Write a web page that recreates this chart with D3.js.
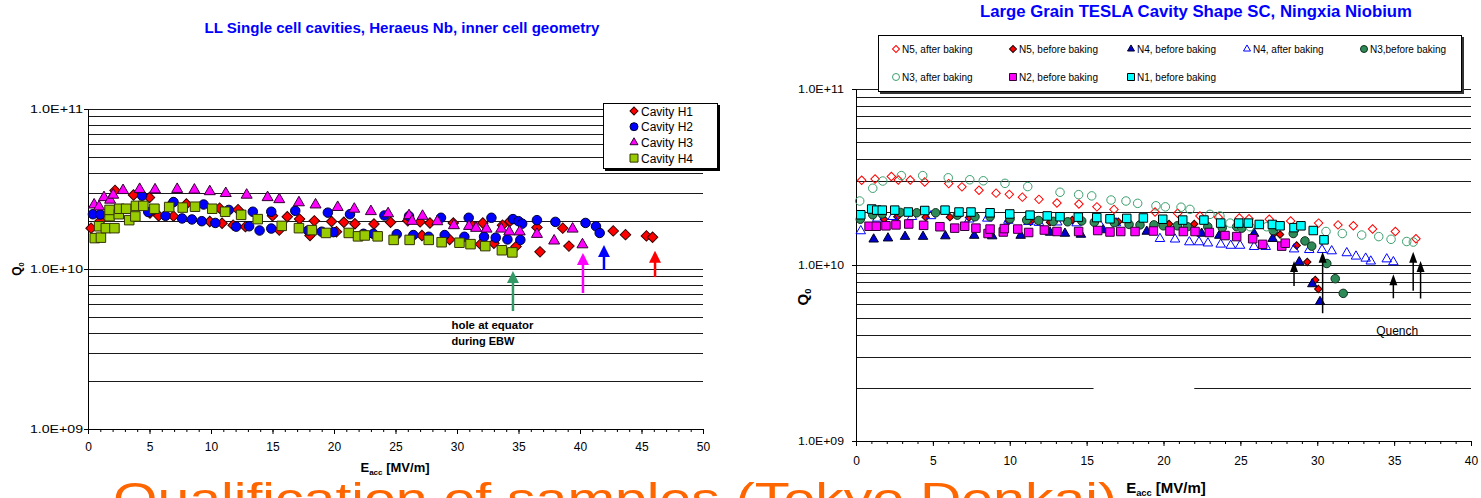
<!DOCTYPE html>
<html>
<head>
<meta charset="utf-8">
<script src="https://cdn.jsdelivr.net/npm/d3@7"></script>
<style>
  body { margin: 0; background: #fff; }
  svg { display: block; font-family: "Liberation Sans", Arial, sans-serif; }
</style>
</head>
<body>
<svg id="chart" width="1481" height="498"></svg>
<script>

// ---- Left chart: LL single cell cavities, Heraeus Nb  [Eacc MV/m, Q0]
var cavityH1 = [[0.25,1.8e10],[1.0,2.0e10],[2.2,3.1e10],[3.7,2.9e10],[5.0,2.8e10],[5.04,2.24e10],[5.74,2.15e10],
  [6.9,2.6e10],[6.95,2.14e10],[8.0,2.55e10],[9.9,1.98e10],[10.7,2.4e10],[10.9,1.93e10],[11.8,1.88e10],[12.2,2.35e10],
  [12.8,1.84e10],[15.0,2.15e10],[15.55,1.75e10],[16.2,2.12e10],[17.2,2.05e10],[18.05,1.62e10],[18.4,2.0e10],
  [19.8,1.98e10],[20.2,1.71e10],[20.8,1.96e10],[21.7,1.92e10],[23.25,1.91e10],[24.6,1.96e10],[26.0,2.0e10],
  [27.0,1.97e10],[27.15,1.62e10],[27.8,1.94e10],[29.4,1.53e10],[29.7,1.94e10],[31.2,1.88e10],[31.9,1.43e10],
  [32.1,1.94e10],[33.0,1.45e10],[33.7,1.88e10],[34.3,1.99e10],[34.8,1.38e10],[36.5,1.82e10],[36.75,1.28e10],
  [38.6,1.8e10],[39.1,1.39e10],[42.7,1.73e10],[43.7,1.64e10],[45.4,1.61e10],[45.9,1.58e10]];
var cavityH2 = [[0.4,2.2e10],[1.0,2.19e10],[4.4,2.87e10],[4.9,2.27e10],[6.3,2.15e10],[6.95,2.62e10],[7.65,2.07e10],
  [8.45,2.04e10],[9.25,1.99e10],[9.4,2.53e10],[10.35,1.94e10],[11.45,2.34e10],[12.05,1.84e10],[13.1,1.85e10],
  [13.4,2.28e10],[13.95,1.74e10],[14.9,2.28e10],[14.9,1.79e10],[16.85,2.31e10],[17.9,1.74e10],[19.0,1.71e10],
  [19.5,2.25e10],[19.95,1.7e10],[21.3,2.2e10],[22.4,1.66e10],[23.2,1.66e10],[24.1,2.16e10],[25.1,1.65e10],
  [26.1,2.14e10],[26.45,1.63e10],[27.7,1.59e10],[28.7,2.09e10],[29.0,1.63e10],[30.6,1.59e10],[30.95,2.09e10],
  [32.2,1.59e10],[32.8,2.09e10],[33.15,1.57e10],[34.1,1.53e10],[34.55,2.05e10],[35.0,1.99e10],[35.15,1.52e10],
  [35.3,1.92e10],[36.5,2.02e10],[38.0,1.97e10],[40.45,1.94e10],[41.3,1.85e10],[41.6,1.68e10]];
var cavityH3 = [[0.5,2.52e10],[0.9,2.45e10],[1.3,2.8e10],[1.8,2.7e10],[2.05,2.9e10],[2.85,3.1e10],[4.2,3.15e10],
  [5.45,3.13e10],[7.25,3.15e10],[8.65,3.12e10],[9.9,3.05e10],[11.2,2.97e10],[12.9,2.9e10],[14.6,2.8e10],
  [15.55,2.72e10],[17.15,2.6e10],[18.5,2.52e10],[20.3,2.43e10],[21.65,2.37e10],[23.0,2.29e10],[24.4,2.22e10],
  [26.1,2.16e10],[26.35,1.99e10],[27.2,2.14e10],[28.4,1.98e10],[29.75,1.87e10],[30.98,1.85e10],[31.55,1.8e10],
  [32.4,1.78e10],[33.6,1.78e10],[34.25,1.71e10],[35.1,1.71e10],[36.5,1.65e10],[37.9,1.5e10],[39.4,1.78e10],
  [40.2,1.42e10]];
var cavityH4 = [[0.55,1.56e10],[1.05,1.57e10],[0.9,1.85e10],[1.45,1.8e10],[2.15,1.8e10],[1.75,2.14e10],[1.75,2.34e10],
  [2.5,2.2e10],[2.55,2.38e10],[3.1,2.38e10],[3.35,2.02e10],[3.85,2.13e10],[3.9,2.48e10],[4.5,2.48e10],[5.4,2.38e10],
  [6.6,2.44e10],[7.7,2.42e10],[8.7,2.45e10],[10.1,2.38e10],[11.15,2.28e10],[12.45,2.18e10],[13.8,2.05e10],
  [15.75,1.86e10],[17.15,1.8e10],[18.2,1.75e10],[19.35,1.68e10],[21.2,1.68e10],[21.95,1.6e10],[22.5,1.62e10],
  [23.55,1.6e10],[24.85,1.52e10],[26.15,1.52e10],[27.7,1.52e10],[28.75,1.47e10],[30.2,1.46e10],[31.1,1.43e10],
  [32.3,1.39e10],[33.65,1.31e10],[34.5,1.27e10]];
var leftNames = ["Cavity H1", "Cavity H2", "Cavity H3", "Cavity H4"];
// quench arrows: [Eacc, Q0 at tip, Q0 at tail]
var leftArrows = [[34.55,9.7e9,5.46e9],[40.24,1.26e10,7.08e9],[41.95,1.41e10,9.86e9],[46.1,1.3e10,8.9e9]];
var leftArrowColors = ["#339966", "#FF00FF", "#0000FF", "#FF0000"];

// ---- Right chart: Large grain TESLA shape, Ningxia Nb  [Eacc MV/m, Q0]
var n5After = [[0.37,3.03e10],[1.24,3.08e10],[2.3,3.18e10],[2.75,3.04e10],[3.53,3.04e10],[4.47,2.96e10],[6.03,2.9e10],
  [6.89,2.78e10],[8.0,2.66e10],[9.11,2.56e10],[9.97,2.52e10],[10.82,2.43e10],[11.9,2.36e10],[13.07,2.25e10],
  [14.5,2.22e10],[15.67,2.14e10],[16.78,2.07e10],[19.45,2.0e10],[20.92,1.97e10],[22.37,1.9e10],[23.56,1.87e10],
  [24.93,1.85e10],[25.56,1.83e10],[26.88,1.82e10],[28.27,1.78e10],[30.09,1.73e10],[31.35,1.69e10],[32.35,1.67e10],
  [33.6,1.6e10],[35.08,1.55e10],[36.42,1.41e10]];
var n5Before = [[1.82,1.82e10],[2.69,1.88e10],[4.53,1.87e10],[6.11,1.87e10],[7.35,1.86e10],[9.93,1.78e10],
  [11.36,1.76e10],[12.62,1.75e10],[14.07,1.8e10],[17.06,1.76e10],[20.36,1.71e10],[22.0,1.71e10],[27.19,1.51e10],
  [27.58,1.49e10],[28.66,1.29e10],[29.35,1.04e10],[29.87,8.22e9],[30.07,7.31e9]];
var n4Before = [[1.15,1.4e10],[2.08,1.42e10],[3.19,1.45e10],[4.36,1.45e10],[5.81,1.46e10],[7.69,1.47e10],
  [8.86,1.46e10],[10.71,1.47e10],[12.62,1.53e10],[13.59,1.51e10],[14.63,1.49e10],[16.08,1.58e10],[18.91,1.55e10],
  [22.48,1.51e10],[23.63,1.47e10],[25.89,1.51e10],[27.1,1.41e10],[28.83,1.04e10],[29.68,7.8e9],[30.18,6.18e9]];
var n4After = [[0.31,1.56e10],[1.39,1.84e10],[2.39,1.88e10],[3.64,1.88e10],[4.88,1.9e10],[7.37,1.82e10],
  [8.54,1.84e10],[9.91,1.79e10],[11.21,1.76e10],[11.9,1.74e10],[13.09,1.75e10],[14.35,1.73e10],[15.87,1.69e10],
  [16.91,1.73e10],[19.77,1.41e10],[20.75,1.4e10],[21.68,1.35e10],[22.31,1.35e10],[22.89,1.33e10],[23.72,1.31e10],
  [24.37,1.29e10],[24.98,1.29e10],[25.89,1.27e10],[26.65,1.27e10],[28.49,1.23e10],[29.48,1.22e10],[30.31,1.22e10],
  [30.94,1.2e10],[31.92,1.17e10],[32.52,1.12e10],[33.15,1.09e10],[33.48,1.05e10],[34.52,1.08e10],[34.95,1.04e10]];
var n3Before = [[0.28,1.82e10],[1.09,1.93e10],[1.71,1.95e10],[2.88,1.99e10],[3.95,1.98e10],[5.18,1.98e10],
  [6.59,1.92e10],[7.74,1.88e10],[8.72,1.88e10],[10.02,1.83e10],[11.1,1.8e10],[11.88,1.79e10],[12.83,1.77e10],
  [13.77,1.76e10],[14.68,1.78e10],[15.5,1.75e10],[16.8,1.74e10],[17.76,1.7e10],[18.47,1.69e10],[19.38,1.69e10],
  [19.99,1.67e10],[20.9,1.67e10],[21.55,1.65e10],[22.88,1.65e10],[23.82,1.63e10],[24.76,1.65e10],[25.09,1.62e10],
  [27.14,1.57e10],[28.44,1.51e10],[29.2,1.37e10],[29.64,1.28e10],[30.62,1.02e10],[31.17,8.36e9],[31.69,6.9e9]];
var n3After = [[0.24,2.31e10],[1.09,2.73e10],[1.74,3.0e10],[2.95,3.22e10],[4.34,3.22e10],[6.0,3.13e10],[7.4,3.05e10],
  [8.28,3.01e10],[9.69,2.91e10],[11.17,2.79e10],[13.27,2.59e10],[14.48,2.51e10],[15.33,2.47e10],[16.59,2.34e10],
  [17.56,2.31e10],[18.32,2.24e10],[19.51,2.17e10],[20.12,2.14e10],[21.14,2.13e10],[21.72,2.07e10],[23.02,1.94e10],
  [23.67,1.9e10],[24.33,1.73e10],[24.98,1.65e10],[25.63,1.65e10],[26.71,1.65e10],[27.14,1.6e10],[30.57,1.55e10],
  [31.63,1.51e10],[32.89,1.48e10],[34.0,1.45e10],[34.8,1.4e10],[35.82,1.36e10],[36.25,1.35e10]];
var n2Before = [[0.85,1.66e10],[1.32,1.66e10],[1.95,1.67e10],[2.6,1.69e10],[3.43,1.71e10],[4.4,1.68e10],[5.46,1.65e10],
  [6.42,1.62e10],[7.07,1.66e10],[7.8,1.62e10],[8.59,1.51e10],[8.72,1.6e10],[9.58,1.54e10],[9.65,1.61e10],
  [10.52,1.6e10],[11.23,1.53e10],[12.25,1.58e10],[13.07,1.55e10],[14.48,1.55e10],[15.72,1.57e10],[16.52,1.54e10],
  [17.22,1.55e10],[18.15,1.55e10],[19.34,1.56e10],[20.42,1.56e10],[21.29,1.55e10],[22.05,1.55e10],[22.98,1.53e10],
  [24.0,1.47e10],[24.76,1.45e10],[25.8,1.41e10],[26.45,1.31e10],[27.69,1.28e10],[27.92,1.33e10]];
var n1Before = [[0.31,1.93e10],[1.02,2.08e10],[1.35,2.05e10],[1.71,2.05e10],[2.52,2.05e10],[3.4,2.0e10],[4.47,2.04e10],
  [5.79,2.05e10],[6.7,2.0e10],[7.48,2.0e10],[8.72,1.98e10],[10.0,1.95e10],[11.32,1.92e10],[12.44,1.9e10],
  [13.27,1.88e10],[14.46,1.87e10],[15.66,1.86e10],[16.52,1.83e10],[17.61,1.84e10],[18.69,1.85e10],[19.95,1.82e10],
  [21.25,1.8e10],[22.63,1.8e10],[23.72,1.73e10],[24.89,1.73e10],[25.52,1.73e10],[26.23,1.7e10],[27.08,1.7e10],
  [27.58,1.67e10],[28.49,1.63e10],[28.94,1.67e10],[29.74,1.57e10],[30.44,1.39e10]];
var rightNames = ["N5, after baking", "N5, before baking", "N4, before baking", "N4, after baking",
  "N3,before baking", "N3, after baking", "N2, before baking", "N1, before baking"];
var rightArrows = [[28.49,1.054e10,7.6e9],[30.35,1.19e10,5.32e9],[34.95,8.85e9,6.47e9],[36.24,1.19e10,7.15e9],[36.72,1.054e10,6.45e9]];

var yTicks = [1e9, 1e10, 1e11];


var svg = d3.select("#chart");

function formatExp(d) {
    var e = Math.round(Math.log10(d));
    return "1.0E+" + (e < 10 ? "0" : "") + e;
}

// marker: shape name + visible width in px
function markerPath(shape, w) {
    if (shape === "circle") return d3.symbol().type(d3.symbolCircle).size(Math.PI * w * w / 4)();
    if (shape === "triangle") return d3.symbol().type(d3.symbolTriangle).size(Math.sqrt(3) / 4 * w * w)();
    if (shape === "diamond") return d3.symbol().type(d3.symbolSquare).size(w * w / 2)();
    return d3.symbol().type(d3.symbolSquare).size(w * w)();
}

function drawSeries(g, data, st, x, y) {
    g.selectAll(null)
        .data(data)
        .enter()
        .append("path")
        .attr("transform", d => `translate(${x(d[0])},${y(d[1])})` + (st.shape === "diamond" ? " rotate(45)" : ""))
        .attr("d", markerPath(st.shape, st.w))
        .attr("fill", st.fill)
        .attr("stroke", st.stroke)
        .attr("stroke-width", st.sw || 1);
}

function drawLegendMarker(g, cx, cy, st, w) {
    g.append("path")
        .attr("transform", `translate(${cx},${cy})` + (st.shape === "diamond" ? " rotate(45)" : ""))
        .attr("d", markerPath(st.shape, w))
        .attr("fill", st.fill)
        .attr("stroke", st.stroke)
        .attr("stroke-width", 1);
}

// frame: gridlines + axes for one log plot
function drawFrame(g, x, y, opt) {
    var left = x.range()[0], right = x.range()[1];

    g.selectAll(null)
        .data(y.ticks().filter(v => v > 1.01e9))
        .enter()
        .append("line")
        .attr("x1", left).attr("x2", right)
        .attr("y1", d => Math.round(y(d)) + 0.5)
        .attr("y2", d => Math.round(y(d)) + 0.5)
        .attr("stroke", "#1a1a1a")
        .attr("stroke-width", 1);

    // minor x ticks
    g.append("g")
        .attr("transform", `translate(0,${y.range()[0]})`)
        .call(d3.axisBottom(x).tickValues(d3.range(0, opt.xMax + 1, 1)).tickSize(3).tickFormat(""))
        .call(a => a.select(".domain").remove());

    var xAxis = g.append("g")
        .attr("transform", `translate(0,${y.range()[0]})`)
        .call(d3.axisBottom(x)
            .tickValues(d3.range(0, opt.xMax + 1, 5))
            .tickSize(5).tickSizeOuter(0)
            .tickPadding(opt.xPad)
            .tickFormat(d3.format("d")));
    xAxis.selectAll("text").style("font-size", opt.xFont + "px").attr("fill", "#000");

    var yAxis = g.append("g")
        .attr("transform", `translate(${left},0)`)
        .call(d3.axisLeft(y)
            .tickValues(yTicks)
            .tickSize(4).tickSizeOuter(0)
            .tickPadding(opt.yPad)
            .tickFormat(formatExp));
    yAxis.selectAll("text")
        .style("font-size", "11px")
        .attr("fill", "#000")
        .attr("textLength", opt.yLabelW)
        .attr("lengthAdjust", "spacingAndGlyphs");

    g.selectAll(".domain").attr("stroke", "#000");
    g.selectAll(".tick line").attr("stroke", "#000");
}

function axisLabels(g, xc, xy, xSize, qx, qy, qSize) {
    var t = g.append("text")
        .attr("x", xc).attr("y", xy)
        .attr("text-anchor", "middle")
        .style("font-weight", "bold")
        .style("font-size", xSize + "px");
    t.append("tspan").text("E");
    t.append("tspan").attr("dy", 3).style("font-size", (xSize * 0.62) + "px").text("acc");
    t.append("tspan").attr("dy", -3).text(" [MV/m]");

    var q = g.append("text")
        .attr("transform", `translate(${qx},${qy}) rotate(-90)`)
        .attr("text-anchor", "middle")
        .style("font-weight", "bold")
        .style("font-size", qSize + "px");
    q.append("tspan").text("Q");
    q.append("tspan").attr("dy", 3).style("font-size", (qSize * 0.62) + "px").text("0");
}

function drawArrow(g, x, yTip, yTail, color, hw, hh, lw) {
    g.append("line")
        .attr("x1", x).attr("x2", x)
        .attr("y1", yTail).attr("y2", yTip + hh - 1)
        .attr("stroke", color)
        .attr("stroke-width", lw);
    g.append("path")
        .attr("d", `M${x},${yTip}L${x - hw / 2},${yTip + hh}L${x + hw / 2},${yTip + hh}Z`)
        .attr("fill", color);
}


//Left chart

function LeftChart() {
    const margin = { top: 109, right: 778, bottom: 69, left: 88 };
    var g = svg.append("g");

    var xScale = d3.scaleLinear().domain([0, 50]).range([margin.left, 1481 - margin.right]);
    var yScale = d3.scaleLog().domain([1e9, 1e11]).range([498 - margin.bottom, margin.top]);

    drawFrame(g, xScale, yScale, { xMax: 50, xPad: 8, xFont: 12, yPad: 1, yLabelW: 53 });

    g.append("text")
        .attr("x", 402).attr("y", 33)
        .attr("text-anchor", "middle")
        .attr("fill", "#0000FF")
        .style("font-weight", "bold")
        .style("font-size", "14px")
        .attr("textLength", 395)
        .attr("lengthAdjust", "spacingAndGlyphs")
        .text("LL Single cell cavities, Heraeus Nb, inner cell geometry");

    axisLabels(g, 395, 472, 13, 21, 269, 12);

    var styles = [
        { shape: "diamond", w: 10.5, fill: "#FF0000", stroke: "#330000" },
        { shape: "circle", w: 9.5, fill: "#0000FF", stroke: "#000033" },
        { shape: "triangle", w: 11, fill: "#FF00FF", stroke: "#330033" },
        { shape: "square", w: 9.5, fill: "#99CC00", stroke: "#333300" }
    ];
    [cavityH1, cavityH2, cavityH3, cavityH4].forEach(function (data, i) {
        drawSeries(g, data, styles[i], xScale, yScale);
    });

    leftArrows.forEach(function (a, i) {
        drawArrow(g, xScale(a[0]), yScale(a[1]), yScale(a[2]), leftArrowColors[i], 12, 12, 2.5);
    });

    g.append("text")
        .attr("x", xScale(29.55)).attr("y", yScale(4.2e9))
        .style("font-size", "11px").style("font-weight", "bold")
        .attr("textLength", 82).attr("lengthAdjust", "spacingAndGlyphs")
        .text("hole at equator");
    g.append("text")
        .attr("x", xScale(29.55)).attr("y", yScale(3.35e9))
        .style("font-size", "11px").style("font-weight", "bold")
        .text("during EBW");

    // Legend
    var legend = g.append("g");
    legend.append("rect").attr("x", 605).attr("y", 105).attr("width", 115).attr("height", 66).attr("fill", "#000");
    legend.append("rect").attr("x", 603.5).attr("y", 103.5).attr("width", 114).attr("height", 65)
        .attr("fill", "#fff").attr("stroke", "#000");
    leftNames.forEach(function (name, i) {
        var cy = 111 + i * 15.7;
        drawLegendMarker(legend, 634, cy, styles[i], 8);
        legend.append("text")
            .attr("x", 641).attr("y", cy + 4.5)
            .style("font-size", "12px")
            .text(name);
    });
}


//Right chart

function RightChart() {
    const margin = { top: 89, right: 10, bottom: 57, left: 856 };
    var g = svg.append("g");

    var xScale = d3.scaleLinear().domain([0, 40]).range([margin.left, 1481 - margin.right]);
    var yScale = d3.scaleLog().domain([1e9, 1e11]).range([498 - margin.bottom, margin.top]);

    drawFrame(g, xScale, yScale, { xMax: 40, xPad: 10, xFont: 12, yPad: 8, yLabelW: 46 });

    // break in the 2E+09 gridline
    g.append("rect")
        .attr("x", xScale(15.45)).attr("y", yScale(2e9) - 3)
        .attr("width", xScale(22.0) - xScale(15.45)).attr("height", 6)
        .attr("fill", "#fff");

    g.append("text")
        .attr("x", 1196).attr("y", 17)
        .attr("text-anchor", "middle")
        .attr("fill", "#0000FF")
        .style("font-weight", "bold")
        .style("font-size", "16.5px")
        .attr("textLength", 432)
        .attr("lengthAdjust", "spacingAndGlyphs")
        .text("Large Grain TESLA Cavity Shape SC, Ningxia Niobium");

    axisLabels(g, 1166, 493, 15, 808, 297, 15);

    var styles = [
        { shape: "diamond", w: 8.5, fill: "none", stroke: "#FF0000" },
        { shape: "diamond", w: 7.5, fill: "#FF0000", stroke: "#220000" },
        { shape: "triangle", w: 9.5, fill: "#0000CC", stroke: "#000022" },
        { shape: "triangle", w: 9.5, fill: "none", stroke: "#0000FF" },
        { shape: "circle", w: 8.5, fill: "#2E8B57", stroke: "#103020" },
        { shape: "circle", w: 8.5, fill: "none", stroke: "#3CA06E" },
        { shape: "square", w: 8.5, fill: "#FF00FF", stroke: "#330033" },
        { shape: "square", w: 8.5, fill: "#00FFFF", stroke: "#000000" }
    ];
    [n5After, n5Before, n4Before, n4After, n3Before, n3After, n2Before, n1Before].forEach(function (data, i) {
        drawSeries(g, data, styles[i], xScale, yScale);
    });

    rightArrows.forEach(function (a) {
        drawArrow(g, xScale(a[0]), yScale(a[1]), yScale(a[2]), "#000", 8, 11, 1.5);
    });

    g.append("text")
        .attr("x", xScale(35.2)).attr("y", yScale(4.0e9))
        .attr("text-anchor", "middle")
        .style("font-size", "12px")
        .text("Quench");

    // Legend
    var legend = g.append("g");
    legend.append("rect").attr("x", 880).attr("y", 37).attr("width", 584).attr("height", 57).attr("fill", "#333");
    legend.append("rect").attr("x", 878.5).attr("y", 35.5).attr("width", 583).attr("height", 56)
        .attr("fill", "#fff").attr("stroke", "#000");
    var colX = [896, 1013, 1131, 1247, 1364];
    rightNames.forEach(function (name, i) {
        var cx = colX[i % 5], cy = i < 5 ? 49 : 77;
        drawLegendMarker(legend, cx, cy, styles[i], 7);
        legend.append("text")
            .attr("x", cx + 6).attr("y", cy + 3.5)
            .style("font-size", "10px")
            .text(name);
    });
}


LeftChart();
RightChart();

// slide title peeking in at the bottom edge
svg.append("text")
    .attr("x", 113).attr("y", 514)
    .attr("fill", "#FF6600")
    .style("font-size", "44px")
    .attr("textLength", 1004)
    .attr("lengthAdjust", "spacingAndGlyphs")
    .text("Qualification of samples (Tokyo Denkai)");

</script>
</body>
</html>
